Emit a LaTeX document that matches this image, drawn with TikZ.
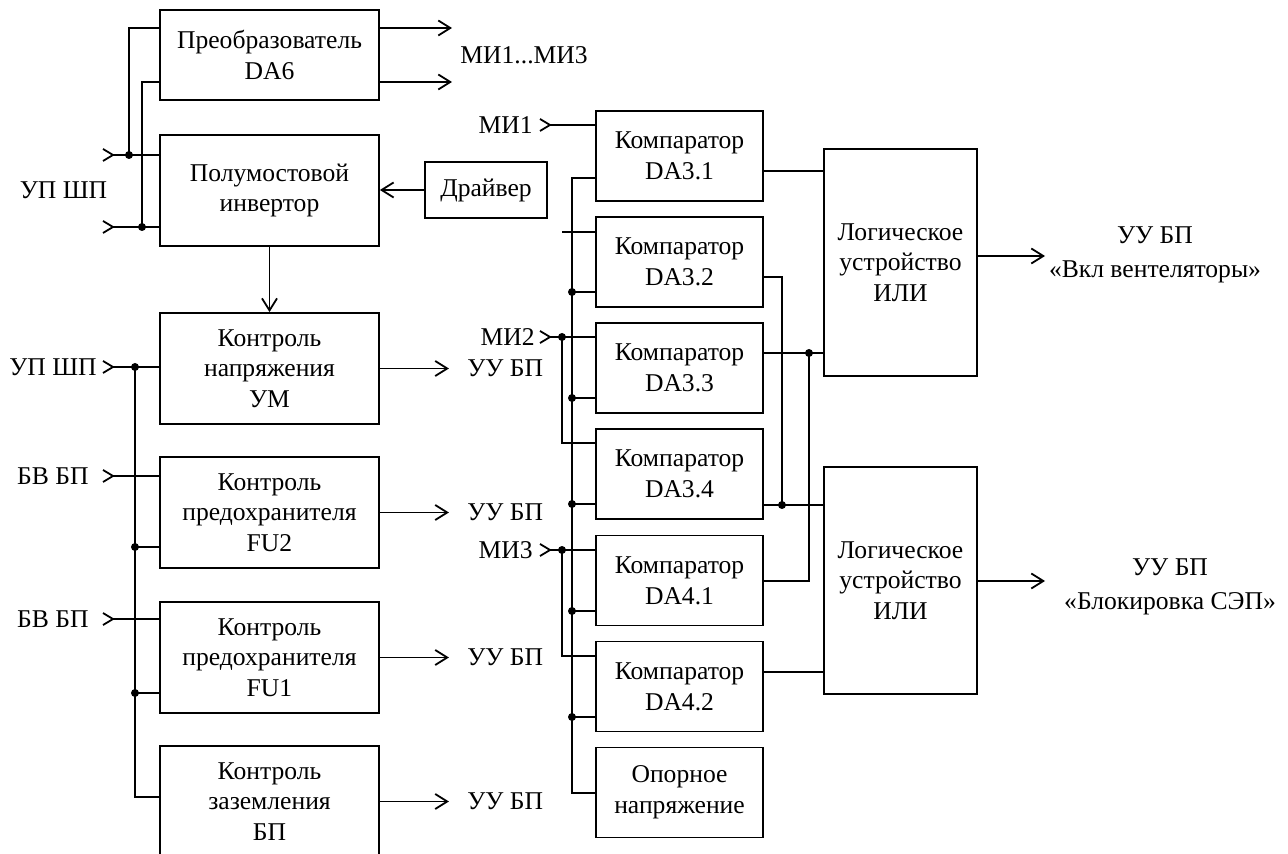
\documentclass[tikz,border=0pt]{standalone}
\usepackage{fontspec}
\setmainfont{Liberation Serif}
\usetikzlibrary{arrows.meta}
\tikzset{
  blk/.style={draw, line width=0.9pt, align=center, inner sep=0pt,
    font=\fontsize{12.8}{15.3}\selectfont},
  lbox/.style={blk, minimum width=109.5pt, minimum height=55.5pt},
  cbox/.style={blk, minimum width=83.5pt, minimum height=45pt},
  obox/.style={blk, minimum width=76.5pt, minimum height=113.5pt},
  wire/.style={line width=0.9pt},
  arr/.style={wire, -{Straight Barb[length=6pt,width=7.5pt]}},
  lbl/.style={inner sep=0pt, align=center, font=\fontsize{12.8}{17}\selectfont},
}
% input chevron ">" ending at the given coordinate
\newcommand\inmark[1]{\draw[wire] (#1) ++(-10,-6) -- (#1) -- ++(-10,6);}
\newcommand\jdot[1]{\fill (#1) circle (2pt);}
\begin{document}
\begin{tikzpicture}[x=0.5pt,y=-0.5pt]
\useasboundingbox (0,0) rectangle (1288,854);
\clip (0,0) rectangle (1288,854);

% ---------- left column ----------
\node[blk, minimum width=109.5pt, minimum height=45pt] (da6) at (269.5,55) {Преобразователь\\DA6};
\node[lbox] (inv) at (269.5,190.5) {Полумостовой\\инвертор};
\node[lbox] (um)  at (269.5,368.5) {Контроль\\напряжения\\УМ};
\node[lbox] (fu2) at (269.5,512.5) {Контроль\\предохранителя\\FU2};
\node[lbox] (fu1) at (269.5,657.5) {Контроль\\предохранителя\\FU1};
\node[lbox] (gnd) at (269.5,801.5) {Контроль\\заземления\\БП};
\node[blk, minimum width=61pt, minimum height=28pt] (drv) at (486,190) {Драйвер};

% converter outputs
\coordinate (mo1) at (452,28);
\coordinate (mo2) at (452,82);
\draw[arr] (da6.east |- mo1) -- (mo1);
\draw[arr] (da6.east |- mo2) -- (mo2);
\node[lbl, anchor=west] (milbl) at (460,55) {МИ1...МИ3};

% supply inputs of inverter and converter
\coordinate (pa) at (113,155);
\coordinate (pb) at (113,227);
\coordinate (ja) at (129,155);
\coordinate (jb) at (142,227);
\inmark{pa} \inmark{pb}
\draw[wire] (pa) -- (inv.west |- pa);
\draw[wire] (pb) -- (inv.west |- pb);
\draw[wire] (ja) |- (da6.west |- mo1);
\draw[wire] (jb) |- (da6.west |- mo2);
\jdot{ja} \jdot{jb}
\node[lbl] (ups1) at (63.5,190) {УП ШП};

\draw[arr] (drv.west) -- (inv.east |- drv.west);
\draw[arr] (inv.south) -- (um.north);

% outputs of the control blocks
\foreach \b/\n in {um/1,fu2/2,fu1/3,gnd/4}{
  \coordinate (uo\n) at ([xshift=34.5pt]\b.east);
  \draw[arr] (\b.east) -- (uo\n);
  \node[lbl, anchor=west] (uu\n) at ([xshift=9pt]uo\n) {УУ БП};
}

% control bus
\coordinate (pc)  at (113,367);
\coordinate (bv1) at (113,476);
\coordinate (bv2) at (113,619);
\coordinate (jc)  at (135,367);
\coordinate (j2)  at (135,547);
\coordinate (j3)  at (135,693);
\coordinate (bend) at (135,797);
\inmark{pc} \inmark{bv1} \inmark{bv2}
\draw[wire] (pc) -- (um.west |- pc);
\draw[wire] (bv1) -- (fu2.west |- bv1);
\draw[wire] (bv2) -- (fu1.west |- bv2);
\draw[wire] (jc) -- (bend) -- (gnd.west |- bend);
\draw[wire] (j2) -- (fu2.west |- j2);
\draw[wire] (j3) -- (fu1.west |- j3);
\jdot{jc} \jdot{j2} \jdot{j3}
\node[lbl, anchor=east] (ups2) at (97,367) {УП ШП};
\node[lbl, anchor=east] (bvl1) at (89,476) {БВ БП};
\node[lbl, anchor=east] (bvl2) at (89,619) {БВ БП};

% ---------- comparators ----------
\node[cbox] (c1) at (679.5,156)   {Компаратор\\DA3.1};
\node[cbox] (c2) at (679.5,262)   {Компаратор\\DA3.2};
\node[cbox] (c3) at (679.5,368)   {Компаратор\\DA3.3};
\node[cbox] (c4) at (679.5,474)   {Компаратор\\DA3.4};
\node[cbox] (c5) at (679.5,580.5) {Компаратор\\DA4.1};
\node[cbox] (c6) at (679.5,686.5) {Компаратор\\DA4.2};
\node[cbox] (ref) at (679.5,792.5) {Опорное\\напряжение};

% measuring inputs
\coordinate (m1) at (550,125);
\coordinate (m2) at (550,337);
\coordinate (m3) at (550,550);
\coordinate (k2) at (562,337);
\coordinate (k3) at (562,550);
\inmark{m1} \inmark{m2} \inmark{m3}
\node[lbl, anchor=east] (mil1) at (533,125) {МИ1};
\node[lbl, anchor=east] (mil2) at (535,337) {МИ2};
\node[lbl, anchor=east] (mil3) at (533,550) {МИ3};
\draw[wire] (m1) -- (c1.west |- m1);
\draw[wire] (m2) -- (c3.west |- m2);
\draw[wire] (k2) |- (c4.west |- 0,443);
\draw[wire] (m3) -- (c5.west |- m3);
\draw[wire] (k3) |- (c6.west |- 0,656);
\jdot{k2} \jdot{k3}
\coordinate (st) at (562,232);
\draw[wire] (st) -- (c2.west |- st);

% reference bus
\coordinate (rb0) at (572,178);
\coordinate (rb1) at (572,292);
\coordinate (rb2) at (572,398);
\coordinate (rb3) at (572,504);
\coordinate (rb4) at (572,611);
\coordinate (rb5) at (572,717);
\coordinate (rbE) at (572,793);
\draw[wire] (c1.west |- rb0) -- (rb0) -- (rbE) -- (ref.west |- rbE);
\foreach \c/\r in {c2/rb1,c3/rb2,c4/rb3,c5/rb4,c6/rb5}{
  \draw[wire] (\r) -- (\c.west |- \r);
  \jdot{\r}
}

% ---------- OR logic ----------
\node[obox] (or1) at (900.5,262.5) {Логическое\\устройство\\ИЛИ};
\node[obox] (or2) at (900.5,580.5) {Логическое\\устройство\\ИЛИ};
\draw[wire] (c1.east |- 0,171) -- (or1.west |- 0,171);
\draw[wire] (c3.east |- 0,353) -- (or1.west |- 0,353);
\draw[wire] (c4.east |- 0,505) -- (or2.west |- 0,505);
\draw[wire] (c6.east |- 0,672) -- (or2.west |- 0,672);
\coordinate (x2) at (782,505);
\coordinate (x1) at (809,353);
\draw[wire] (c2.east |- 0,277) -| (x2);
\draw[wire] (c5.east |- 0,581) -| (x1);
\jdot{x1} \jdot{x2}

\coordinate (o1) at (1045,256);
\coordinate (o2) at (1045,581);
\draw[arr] (or1.east |- o1) -- (o1);
\draw[arr] (or2.east |- o2) -- (o2);
\node[lbl] (out1) at (1155,255) {УУ БП\\«Вкл вентеляторы»};
\node[lbl] (out2) at (1170,587) {УУ БП\\«Блокировка СЭП»};
\end{tikzpicture}
\end{document}
